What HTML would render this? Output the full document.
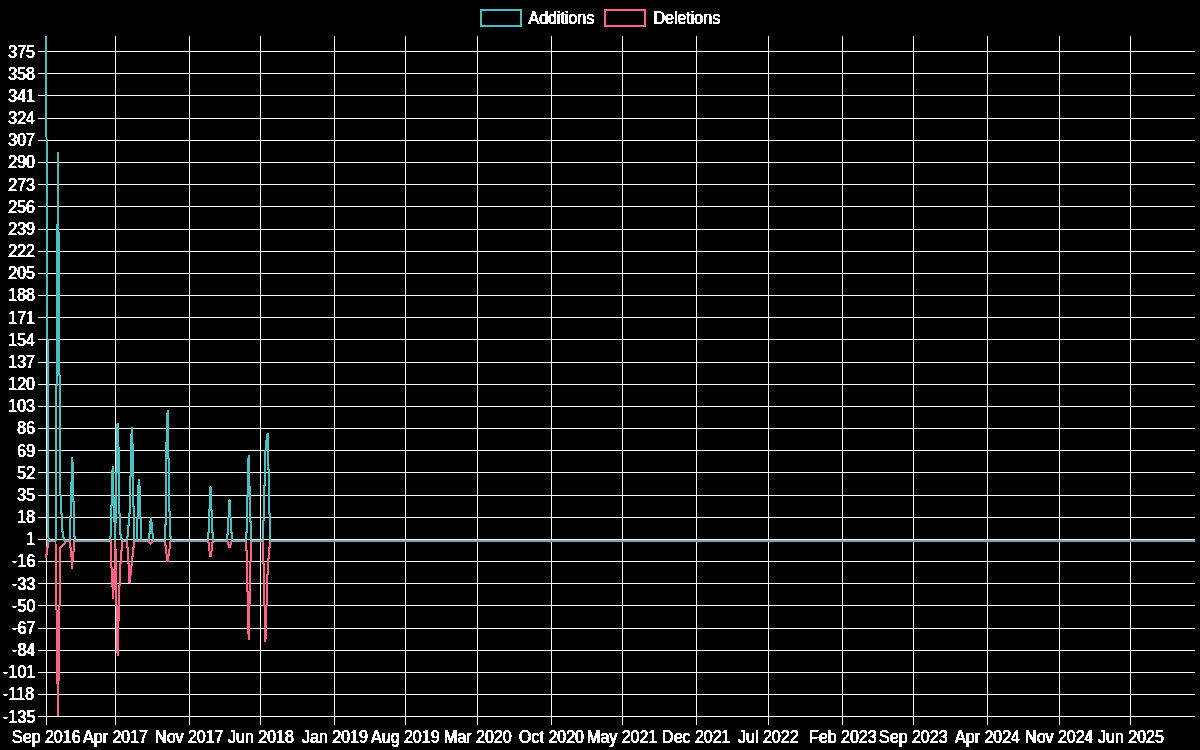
<!DOCTYPE html>
<html><head><meta charset="utf-8"><title>Code frequency</title>
<style>
html,body{margin:0;padding:0;background:#000;width:1200px;height:750px;overflow:hidden}
svg{display:block}
.lbl text,text.lbl{font-family:"Liberation Sans",sans-serif;font-size:16px;fill:#fff;stroke:none}
</style></head><body>
<svg width="1200" height="750" viewBox="0 0 1200 750"><defs><clipPath id="ca"><rect x="45" y="36" width="1151" height="682"/></clipPath><filter id="al" x="-5%" y="-20%" width="110%" height="140%"><feComponentTransfer><feFuncA type="discrete" tableValues="0 0 1 1"/></feComponentTransfer></filter></defs><path d="M38 51.5H1195M38 73.5H1195M38 95.5H1195M38 118.5H1195M38 140.5H1195M38 162.5H1195M38 184.5H1195M38 206.5H1195M38 229.5H1195M38 251.5H1195M38 273.5H1195M38 295.5H1195M38 317.5H1195M38 339.5H1195M38 362.5H1195M38 384.5H1195M38 406.5H1195M38 428.5H1195M38 450.5H1195M38 472.5H1195M38 495.5H1195M38 517.5H1195M38 539.5H1195M38 561.5H1195M38 583.5H1195M38 605.5H1195M38 628.5H1195M38 650.5H1195M38 672.5H1195M38 694.5H1195M38 716.5H1195M46.5 36V725M115.5 36V725M189.5 36V725M260.5 36V725M334.5 36V725M405.5 36V725M477.5 36V725M551.5 36V725M622.5 36V725M696.5 36V725M768.5 36V725M842.5 36V725M913.5 36V725M987.5 36V725M1059.5 36V725M1130.5 36V725" stroke="rgba(255,255,255,0.975)" stroke-width="1" fill="none"/><g class="lbl" filter="url(#al)"><text transform="translate(7.8 57.65) scale(1 1.1)">375</text><text transform="translate(8.8 57.65) scale(1 1.1)">375</text><text transform="translate(7.8 79.82) scale(1 1.1)">358</text><text transform="translate(8.8 79.82) scale(1 1.1)">358</text><text transform="translate(7.8 101.98) scale(1 1.1)">341</text><text transform="translate(8.8 101.98) scale(1 1.1)">341</text><text transform="translate(7.8 124.15) scale(1 1.1)">324</text><text transform="translate(8.8 124.15) scale(1 1.1)">324</text><text transform="translate(7.8 146.32) scale(1 1.1)">307</text><text transform="translate(8.8 146.32) scale(1 1.1)">307</text><text transform="translate(7.8 168.48) scale(1 1.1)">290</text><text transform="translate(8.8 168.48) scale(1 1.1)">290</text><text transform="translate(7.8 190.65) scale(1 1.1)">273</text><text transform="translate(8.8 190.65) scale(1 1.1)">273</text><text transform="translate(7.8 212.82) scale(1 1.1)">256</text><text transform="translate(8.8 212.82) scale(1 1.1)">256</text><text transform="translate(7.8 234.98) scale(1 1.1)">239</text><text transform="translate(8.8 234.98) scale(1 1.1)">239</text><text transform="translate(7.8 257.15) scale(1 1.1)">222</text><text transform="translate(8.8 257.15) scale(1 1.1)">222</text><text transform="translate(7.8 279.32) scale(1 1.1)">205</text><text transform="translate(8.8 279.32) scale(1 1.1)">205</text><text transform="translate(7.8 301.48) scale(1 1.1)">188</text><text transform="translate(8.8 301.48) scale(1 1.1)">188</text><text transform="translate(7.8 323.65) scale(1 1.1)">171</text><text transform="translate(8.8 323.65) scale(1 1.1)">171</text><text transform="translate(7.8 345.82) scale(1 1.1)">154</text><text transform="translate(8.8 345.82) scale(1 1.1)">154</text><text transform="translate(7.8 367.98) scale(1 1.1)">137</text><text transform="translate(8.8 367.98) scale(1 1.1)">137</text><text transform="translate(7.8 390.15) scale(1 1.1)">120</text><text transform="translate(8.8 390.15) scale(1 1.1)">120</text><text transform="translate(7.8 412.32) scale(1 1.1)">103</text><text transform="translate(8.8 412.32) scale(1 1.1)">103</text><text transform="translate(16.8 434.48) scale(1 1.1)">86</text><text transform="translate(17.8 434.48) scale(1 1.1)">86</text><text transform="translate(16.8 456.65) scale(1 1.1)">69</text><text transform="translate(17.8 456.65) scale(1 1.1)">69</text><text transform="translate(16.8 478.82) scale(1 1.1)">52</text><text transform="translate(17.8 478.82) scale(1 1.1)">52</text><text transform="translate(16.8 500.98) scale(1 1.1)">35</text><text transform="translate(17.8 500.98) scale(1 1.1)">35</text><text transform="translate(16.8 523.15) scale(1 1.1)">18</text><text transform="translate(17.8 523.15) scale(1 1.1)">18</text><text transform="translate(25.8 545.32) scale(1 1.1)">1</text><text transform="translate(26.8 545.32) scale(1 1.1)">1</text><text transform="translate(11.8 567.48) scale(1 1.1)">-16</text><text transform="translate(12.8 567.48) scale(1 1.1)">-16</text><text transform="translate(11.8 589.65) scale(1 1.1)">-33</text><text transform="translate(12.8 589.65) scale(1 1.1)">-33</text><text transform="translate(11.8 611.82) scale(1 1.1)">-50</text><text transform="translate(12.8 611.82) scale(1 1.1)">-50</text><text transform="translate(11.8 633.98) scale(1 1.1)">-67</text><text transform="translate(12.8 633.98) scale(1 1.1)">-67</text><text transform="translate(11.8 656.15) scale(1 1.1)">-84</text><text transform="translate(12.8 656.15) scale(1 1.1)">-84</text><text transform="translate(2.8 678.32) scale(1 1.1)">-101</text><text transform="translate(3.8 678.32) scale(1 1.1)">-101</text><text transform="translate(2.8 700.48) scale(1 1.1)">-118</text><text transform="translate(3.8 700.48) scale(1 1.1)">-118</text><text transform="translate(2.8 722.65) scale(1 1.1)">-135</text><text transform="translate(3.8 722.65) scale(1 1.1)">-135</text></g><g class="lbl" filter="url(#al)"><text transform="translate(11.6 742.5) scale(1 1.1)">Sep 2016</text><text transform="translate(12.6 742.5) scale(1 1.1)">Sep 2016</text><text transform="translate(82.6 742.5) scale(1 1.1)">Apr 2017</text><text transform="translate(83.6 742.5) scale(1 1.1)">Apr 2017</text><text transform="translate(154.6 742.5) scale(1 1.1)">Nov 2017</text><text transform="translate(155.6 742.5) scale(1 1.1)">Nov 2017</text><text transform="translate(227.6 742.5) scale(1 1.1)">Jun 2018</text><text transform="translate(228.6 742.5) scale(1 1.1)">Jun 2018</text><text transform="translate(301.6 742.5) scale(1 1.1)">Jan 2019</text><text transform="translate(302.6 742.5) scale(1 1.1)">Jan 2019</text><text transform="translate(370.6 742.5) scale(1 1.1)">Aug 2019</text><text transform="translate(371.6 742.5) scale(1 1.1)">Aug 2019</text><text transform="translate(443.6 742.5) scale(1 1.1)">Mar 2020</text><text transform="translate(444.6 742.5) scale(1 1.1)">Mar 2020</text><text transform="translate(518.6 742.5) scale(1 1.1)">Oct 2020</text><text transform="translate(519.6 742.5) scale(1 1.1)">Oct 2020</text><text transform="translate(586.6 742.5) scale(1 1.1)">May 2021</text><text transform="translate(587.6 742.5) scale(1 1.1)">May 2021</text><text transform="translate(661.6 742.5) scale(1 1.1)">Dec 2021</text><text transform="translate(662.6 742.5) scale(1 1.1)">Dec 2021</text><text transform="translate(737.6 742.5) scale(1 1.1)">Jul 2022</text><text transform="translate(738.6 742.5) scale(1 1.1)">Jul 2022</text><text transform="translate(808.6 742.5) scale(1 1.1)">Feb 2023</text><text transform="translate(809.6 742.5) scale(1 1.1)">Feb 2023</text><text transform="translate(878.6 742.5) scale(1 1.1)">Sep 2023</text><text transform="translate(879.6 742.5) scale(1 1.1)">Sep 2023</text><text transform="translate(954.6 742.5) scale(1 1.1)">Apr 2024</text><text transform="translate(955.6 742.5) scale(1 1.1)">Apr 2024</text><text transform="translate(1024.6 742.5) scale(1 1.1)">Nov 2024</text><text transform="translate(1025.6 742.5) scale(1 1.1)">Nov 2024</text><text transform="translate(1097.6 742.5) scale(1 1.1)">Jun 2025</text><text transform="translate(1098.6 742.5) scale(1 1.1)">Jun 2025</text></g><g clip-path="url(#ca)" fill="none" shape-rendering="crispEdges" stroke-width="2" stroke-linejoin="bevel"><polyline points="46,557.8 46,555 47,554.7 47,547.5 48,547 48,540.72 55.5,540.72 56,609 57,611 57,683 58,684 58,716 58.2,684 59,676.5 59,607 60,605 60,548.3 65.3,542.3 65.7,540.72 70,540.72 70,546.9 71,547.2 71,556.8 72,557 72,569.4 72.5,561 73,552 74,551.7 74,540.72 111,540.72 111,567.6 112,568 112,581 113,592 113,599 114,581 115,557 115,540.72 116,557 116,605 117,606 117,621 117.5,653 118,656 118.5,621 119,605 119,586 120,585.5 120,564 121,563.5 121,551 122,550.5 122,540.72 127,540.72 127,547.6 128,548 128,563.3 129,564 129,578.4 129.5,582.9 130,578.4 131,572 131,566 132,565.6 132,556.6 133,556.4 133,547.8 134,547.6 134,540.72 148.5,540.72 150.5,544 152.5,540.72 165,540.72 166,550 167.5,562 169,553 170.5,540.72 208,540.72 208,542.5 209,543 209,548.3 210,554 210.5,557 211,554 212,548.3 212,543 213,542.5 213,540.72 227.5,540.72 228,543 229.5,548 231,543 231.5,540.72 246,540.72 246,550.5 247,551 247,591 248,592 248.4,633 249,640 249.2,604 250,603 250,562 251,561 251,540.72 263,540.72 263,563.5 264,564 264,605 265,606 265,641.7 266,636 266,606 267,605 267,575 268,574.5 268,559 269,558.5 269,548 270,547.5 270,540.72 1195,540.72" stroke="rgb(255,99,132)"/><polyline points="45.07,-150 48.52,540.72 56,540.72 56,386 57,385 57,224.5 58,224 58,151.8 58,232 59,232.5 59,375 60,375.6 60,495.3 61,495.5 61,513.3 62,513.5 62,531.6 63,532 63,537.7 64,538 64,540.72 70,540.72 70,517 71,516.5 71,483 72,482 72,457.1 73,466 73,501 74,501.5 74,536 75,536.5 75,540.72 110,540.72 110,536.5 111,536 111,505.6 112,505 112,475 113,466 113,488.8 114,505 114,520 115,523 115,540.72 115.5,523 116,520 116,473 117,472.5 117,425 118,423 119,468 119,513.4 120,513 120,534.4 121,534.5 121,538 122,538.5 122,540.72 127,540.72 127,537 128,536.5 128,526 129,525.5 129,514 130,513.5 130,477 131,476 131,440 132,427.2 133,459 133,506.2 134,506.5 134,540.72 137,540.72 137,518.5 138,518 138,492.1 139,479.3 140,492.1 140,518 141,518.5 141,540.72 149,540.72 149,534 150,533.5 150,524.1 151,517.4 152,525.9 152,533.5 153,534 153,540.72 165,540.72 165,524.6 166,524.3 166,469.5 167,415.3 168,410.1 168,458.3 169,458.5 169,511.2 170,511.5 170,536.6 171,537 171,540.72 208,540.72 208,532.3 209,532 209,510 210,509 210,487.1 211,487.1 211,510 212,510.5 212,532 213,532.3 213,540.72 227,540.72 227,535 228,534.5 228,517.2 229,517 229,501.4 230,499.8 230,517 231,517.5 231,532.7 232,533 232,540.72 246,540.72 246,532.3 247,532 247,497 248,496.8 248,461.2 249,455 249,486 250,486.3 250,521.9 251,522 251,540.72 263,540.72 263,520.3 264,520 264,485.2 265,485 265,454.3 266,445.4 267,435.3 268,433 268,469 269,469.5 269,513.8 270,514 270,540.72 1195,540.72" stroke="rgb(75,192,192)"/></g><g shape-rendering="crispEdges" clip-path="url(#ca)"><rect x="49" y="540" width="7" height="1" fill="rgb(92,172,178)"/><rect x="49" y="541" width="7" height="1" fill="rgb(165,152,172)"/><rect x="64" y="540" width="6" height="1" fill="rgb(92,172,178)"/><rect x="64" y="541" width="6" height="1" fill="rgb(165,152,172)"/><rect x="75" y="540" width="35" height="1" fill="rgb(92,172,178)"/><rect x="75" y="541" width="35" height="1" fill="rgb(165,152,172)"/><rect x="122" y="540" width="5" height="1" fill="rgb(92,172,178)"/><rect x="122" y="541" width="5" height="1" fill="rgb(165,152,172)"/><rect x="134" y="540" width="3" height="1" fill="rgb(92,172,178)"/><rect x="134" y="541" width="3" height="1" fill="rgb(165,152,172)"/><rect x="141" y="540" width="8" height="1" fill="rgb(92,172,178)"/><rect x="141" y="541" width="8" height="1" fill="rgb(165,152,172)"/><rect x="153" y="540" width="12" height="1" fill="rgb(92,172,178)"/><rect x="153" y="541" width="12" height="1" fill="rgb(165,152,172)"/><rect x="171" y="540" width="37" height="1" fill="rgb(92,172,178)"/><rect x="171" y="541" width="37" height="1" fill="rgb(165,152,172)"/><rect x="213" y="540" width="14" height="1" fill="rgb(92,172,178)"/><rect x="213" y="541" width="14" height="1" fill="rgb(165,152,172)"/><rect x="232" y="540" width="14" height="1" fill="rgb(92,172,178)"/><rect x="232" y="541" width="14" height="1" fill="rgb(165,152,172)"/><rect x="251" y="540" width="12" height="1" fill="rgb(92,172,178)"/><rect x="251" y="541" width="12" height="1" fill="rgb(165,152,172)"/><rect x="270" y="540" width="925" height="1" fill="rgb(92,172,178)"/><rect x="270" y="541" width="925" height="1" fill="rgb(165,152,172)"/></g><rect x="481" y="10" width="40" height="16" fill="rgba(75,192,192,0.0)" stroke="rgb(75,192,192)" stroke-width="2"/><g filter="url(#al)"><text class="lbl" transform="translate(528 23.5) scale(1 1.1)">Additions</text><text class="lbl" transform="translate(529 23.5) scale(1 1.1)">Additions</text></g><rect x="605" y="10" width="40" height="16" fill="none" stroke="rgb(255,99,132)" stroke-width="2"/><g filter="url(#al)"><text class="lbl" transform="translate(653 23.5) scale(1 1.1)">Deletions</text><text class="lbl" transform="translate(654 23.5) scale(1 1.1)">Deletions</text></g></svg>
</body></html>
